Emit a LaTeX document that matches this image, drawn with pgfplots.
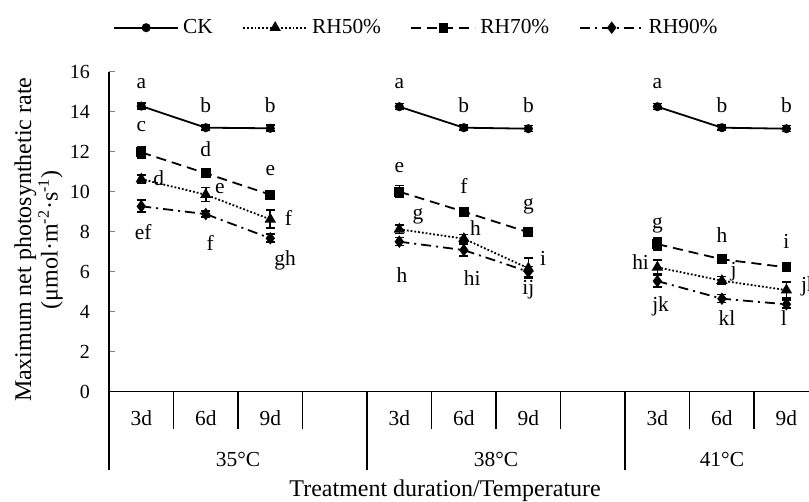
\documentclass[border=0pt]{standalone}
\usepackage{fontspec}
\setmainfont{Liberation Serif}
\usepackage{pgfplots}
\pgfplotsset{compat=1.18}
\usepackage{pgfplotstable}

\newcommand{\tl}{\fontsize{10.7}{12}\selectfont}
\newcommand{\yl}{\fontsize{10}{12}\selectfont}
\newcommand{\ttl}{\fontsize{12}{12}\selectfont}

% x: 0-2 = 35C, 4-6 = 38C, 8-10 = 41C (3d, 6d, 9d); nan breaks the line
\pgfplotstableread{
x y e
0 14.28 0.15
1 13.20 0.12
2 13.17 0.15
3 nan 0
4 14.25 0.15
5 13.20 0.12
6 13.15 0.15
7 nan 0
8 14.25 0.15
9 13.20 0.12
10 13.15 0.15
}\ck
\pgfplotstableread{
x y e
0 10.63 0.20
1 9.85 0.35
2 8.62 0.45
3 nan 0
4 8.12 0.22
5 7.65 0.20
6 6.17 0.50
7 nan 0
8 6.22 0.35
9 5.55 0.20
10 5.08 0.40
}\rhfifty
\pgfplotstableread{
x y e
0 11.97 0.28
1 10.92 0.15
2 9.85 0.12
3 nan 0
4 10.00 0.30
5 9.00 0.10
6 7.97 0.12
7 nan 0
8 7.38 0.30
9 6.62 0.10
10 6.22 0.10
}\rhseventy
\pgfplotstableread{
x y e
0 9.27 0.30
1 8.88 0.15
2 7.67 0.20
3 nan 0
4 7.50 0.20
5 7.08 0.30
6 6.00 0.25
7 nan 0
8 5.53 0.30
9 4.65 0.20
10 4.37 0.20
}\rhninety

\begin{document}
\begin{tikzpicture}
\useasboundingbox (-54.5pt,-55.1pt) rectangle (350pt,195.85pt);
\begin{axis}[
  scale only axis,
  width=350pt, height=160pt,
  xmin=-0.5, xmax=10.35,
  ymin=0, ymax=16,
  axis x line*=bottom, axis y line*=left,
  axis line style={line width=0.75pt},
  xtick={0,1,2,4,5,6,8,9,10},
  xticklabels={3d,6d,9d,3d,6d,9d,3d,6d,9d},
  xtick style={draw=none},
  xticklabel style={anchor=base, yshift=-16.7pt, font=\tl},
  ytick={0,2,...,16},
  yticklabel style={font=\yl, xshift=-6pt},
  ytick style={line width=0.75pt},
  tick align=inside,
  major tick length=3pt,
  /pgf/number format/assume math mode=true,
  clip=false,
  unbounded coords=jump,
  error bars/y dir=both,
  error bars/y explicit,
  error bars/error bar style={line width=0.8pt, solid},
  error bars/error mark options={rotate=90, mark size=2.25pt, line width=0.8pt, solid},
  legend columns=4,
  legend style={draw=none, fill=none, at={(axis cs:-0.44,18.2)}, anchor=west,
    inner sep=0pt, font=\tl,
    /tikz/every even column/.append style={column sep=12.75pt}},
  legend image code/.code={
    \draw[#1, mark repeat=2, mark phase=2]
      plot coordinates {(0pt,0pt) (16pt,0pt) (32pt,0pt)};
  },
]
\addplot[black, line width=0.9pt, mark=*, mark size=1.8pt]
  table[x=x, y=y, y error=e]{\ck};
\addlegendentry{CK}
\addplot[black, line width=0.9pt, densely dotted, mark=triangle*, mark size=2.4pt, mark options={solid}]
  table[x=x, y=y, y error=e]{\rhfifty};
\addlegendentry{RH50\%}
\addplot[black, line width=0.9pt, dash pattern=on 5pt off 3pt, mark=square*, mark size=2pt, mark options={solid}]
  table[x=x, y=y, y error=e]{\rhseventy};
\addlegendentry{RH70\%}
\addplot[black, line width=0.9pt, dash pattern=on 5pt off 2.5pt on 1pt off 2.5pt, mark=diamond*, mark size=2.4pt, mark options={solid}]
  table[x=x, y=y, y error=e]{\rhninety};
\addlegendentry{RH90\%}

% category frame below the axis
\draw[line width=0.75pt] (axis cs:-0.5,0) -- (axis cs:-0.5,-3.92);
\pgfplotsinvokeforeach{0.5,1.5,2.5,4.5,5.5,6.5,8.5,9.5}{
  \draw[line width=0.75pt] (axis cs:#1,0) -- (axis cs:#1,-1.88);
}
\pgfplotsinvokeforeach{3.5,7.5}{
  \draw[line width=0.75pt] (axis cs:#1,0) -- (axis cs:#1,-3.92);
}
\node[anchor=base, font=\tl] at (axis cs:1.5,-3.75) {35°C};
\node[anchor=base, font=\tl] at (axis cs:5.5,-3.75) {38°C};
\node[anchor=base, font=\tl] at (axis cs:9,-3.75) {41°C};
\node[anchor=base, font=\ttl] at (axis cs:4.71,-5.25) {Treatment duration/Temperature};
\node[rotate=90, align=center, font=\ttl] at (axis cs:-1.59,7.6)
  {Maximum net photosynthetic rate\\(μmol·m\textsuperscript{-2}·s\textsuperscript{-1})};

% significance letters
\begin{scope}[every node/.style={font=\tl, inner sep=0pt}]
% 35C
\node at (axis cs:0,15.42) {a};
\node at (axis cs:1,14.33) {b};
\node at (axis cs:2,14.33) {b};
\node at (axis cs:0,13.25) {c};
\node at (axis cs:1,12.12) {d};
\node at (axis cs:2,11.08) {e};
\node at (axis cs:0.27,10.67) {d};
\node at (axis cs:1.22,10.17) {e};
\node at (axis cs:2.28,8.67) {f};
\node at (axis cs:0.03,7.97) {ef};
\node at (axis cs:1.07,7.42) {f};
\node at (axis cs:2.23,6.58) {gh};
% 38C
\node at (axis cs:4,15.42) {a};
\node at (axis cs:5,14.33) {b};
\node at (axis cs:6,14.33) {b};
\node at (axis cs:4,11.22) {e};
\node at (axis cs:5,10.28) {f};
\node at (axis cs:6,9.25) {g};
\node at (axis cs:4.29,8.75) {g};
\node at (axis cs:5.18,8.17) {h};
\node at (axis cs:6.23,6.67) {i};
\node at (axis cs:4.04,5.83) {h};
\node at (axis cs:5.13,5.67) {hi};
\node at (axis cs:6,5.08) {ij};
% 41C
\node at (axis cs:8,15.42) {a};
\node at (axis cs:9,14.33) {b};
\node at (axis cs:10,14.33) {b};
\node at (axis cs:8,8.33) {g};
\node at (axis cs:9,7.83) {h};
\node at (axis cs:10,7.5) {i};
\node at (axis cs:7.74,6.5) {hi};
\node at (axis cs:9.18,6.0) {j};
\node[anchor=west] at (axis cs:10.22,5.25) {jk};
\node at (axis cs:8.05,4.25) {jk};
\node at (axis cs:9.08,3.67) {kl};
\node at (axis cs:9.96,3.67) {l};
\end{scope}
\end{axis}
\end{tikzpicture}
\end{document}
